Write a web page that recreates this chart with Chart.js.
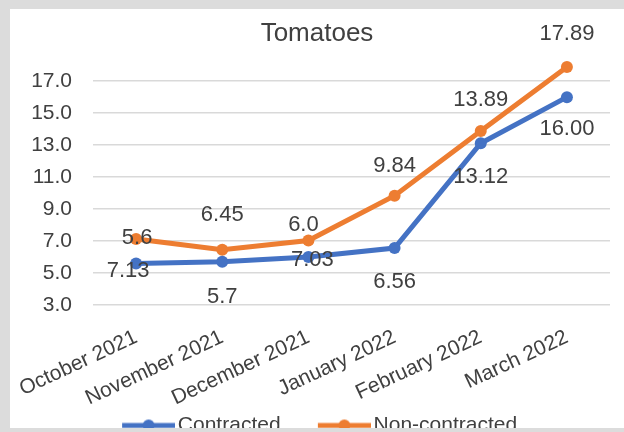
<!DOCTYPE html>
<html>
<head>
<meta charset="utf-8">
<script src="https://cdn.jsdelivr.net/npm/chart.js@4.4.1/dist/chart.umd.min.js"></script>
<style>
  html, body { margin: 0; padding: 0; background: #dcdcdc; }
  #panel { position: absolute; left: 10px; top: 9px; width: 614px; height: 419px; background: #fff; overflow: hidden; }
  #wrap { position: absolute; left: 0; top: 0; width: 614px; height: 437px; }
</style>
</head>
<body>
<div id="panel"><div id="wrap"><canvas id="myChart"></canvas></div></div>
<script>
// months on the x axis
const months = ['October 2021', 'November 2021', 'December 2021', 'January 2022', 'February 2022', 'March 2022'];
// series values
const contracted = [5.6, 5.7, 6.0, 6.56, 13.12, 16.0];
const nonContracted = [7.13, 6.45, 7.03, 9.84, 13.89, 17.89];
// data labels exactly as printed on the original
const contractedLabels = ['7.13', '5.7', '7.03', '6.56', '13.12', '16.00'];
const nonContractedLabels = ['5.6', '6.45', '6.0', '9.84', '13.89', '17.89'];

const BLUE = '#4472c4';
const ORANGE = '#ed7d31';
const TEXT = '#404040';
const FONT = '"Liberation Sans", Arial, sans-serif';

// where each label sits relative to its point (px), moved by hand like in the original
const labelShift = [
  [[-8, 7], [0, 35], [4, 3], [0, 34], [0, 34], [0, 32]],
  [[1, -1], [0, -35], [-5, -16], [0, -30], [0, -31], [0, -33]]
];

// legend symbol: line with a round marker (transparent space on the left keeps the items apart)
function legendIcon(color) {
  const c = document.createElement('canvas');
  c.width = 88; c.height = 14;
  const g = c.getContext('2d');
  g.strokeStyle = color; g.lineWidth = 5;
  g.beginPath(); g.moveTo(35, 7); g.lineTo(88, 7); g.stroke();
  g.fillStyle = color;
  g.beginPath(); g.arc(61.5, 7, 6, 0, Math.PI * 2); g.fill();
  return c;
}
const icons = [legendIcon(BLUE), legendIcon(ORANGE)];

const pointLabels = {
  id: 'pointLabels',
  afterLayout(chart) {
    // Arial is wider than the original font, nudge the legend back to where it was
    chart.legend.left -= 11;
    chart.legend.right -= 11;
  },
  afterDatasetsDraw(chart) {
    const ctx = chart.ctx;
    ctx.save();
    ctx.font = '22px ' + FONT;
    ctx.fillStyle = TEXT;
    ctx.textAlign = 'center';
    ctx.textBaseline = 'middle';
    const texts = [contractedLabels, nonContractedLabels];
    chart.data.datasets.forEach((ds, i) => {
      chart.getDatasetMeta(i).data.forEach((pt, j) => {
        const s = labelShift[i][j];
        ctx.fillText(texts[i][j], pt.x + s[0], pt.y + s[1]);
      });
    });
    ctx.restore();
  }
};

const ctx = document.getElementById('myChart').getContext('2d');
new Chart(ctx, {
  type: 'line',
  data: {
    labels: months,
    datasets: [
      {
        label: 'Contracted',
        data: contracted,
        borderColor: BLUE,
        backgroundColor: BLUE,
        borderWidth: 5,
        pointRadius: 6,
        pointBorderWidth: 0,
        tension: 0,
        clip: false
      },
      {
        label: 'Non-contracted',
        data: nonContracted,
        borderColor: ORANGE,
        backgroundColor: ORANGE,
        borderWidth: 5,
        pointRadius: 6,
        pointBorderWidth: 0,
        tension: 0,
        clip: false
      }
    ]
  },
  options: {
    responsive: true,
    maintainAspectRatio: false,
    animation: false,
    layout: { padding: 0 },
    plugins: {
      tooltip: { enabled: false },
      title: {
        display: true,
        text: 'Tomatoes',
        color: TEXT,
        font: { family: FONT, size: 26, weight: 'normal' },
        padding: { top: 9, bottom: 0 }
      },
      legend: {
        position: 'bottom',
        labels: {
          color: TEXT,
          font: { family: FONT, size: 21 },
          usePointStyle: true,
          pointStyleWidth: 72.5,
          padding: 10,
          generateLabels(chart) {
            const items = Chart.defaults.plugins.legend.labels.generateLabels(chart);
            items.forEach((it, i) => { it.pointStyle = icons[i]; });
            return items;
          }
        }
      }
    },
    scales: {
      x: {
        offset: true,
        grid: { display: false },
        border: { display: false },
        afterFit: (axis) => {
          // let the first label run past the plot edge, like the original
          axis.paddingLeft = 0;
          axis.paddingRight = 14;
          axis.height -= 18;
        },
        ticks: {
          color: TEXT,
          font: { family: FONT, size: 21 },
          minRotation: 25,
          maxRotation: 25,
          padding: 12
        }
      },
      y: {
        min: 3,
        max: 19,
        afterBuildTicks: (axis) => { axis.ticks = axis.ticks.filter(t => t.value <= 17); },
        afterFit: (axis) => { axis.width = 83; },
        grid: { color: '#d9d9d9', lineWidth: 1.5, drawTicks: false },
        border: { display: false },
        ticks: {
          stepSize: 2,
          color: TEXT,
          font: { family: FONT, size: 21 },
          padding: 21,
          callback: (v) => v.toFixed(1)
        }
      }
    }
  },
  plugins: [pointLabels]
});
</script>
</body>
</html>
